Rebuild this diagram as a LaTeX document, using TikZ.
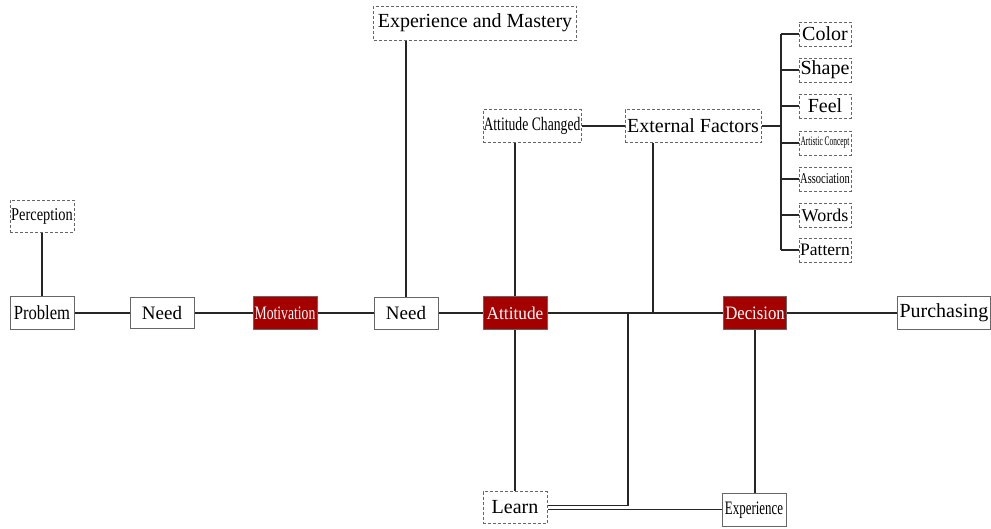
\documentclass[tikz,border=0pt]{standalone}
\usepackage{fontspec}
\setmainfont{Liberation Serif}
\usepackage{graphicx}
\usepackage{tikz}
\definecolor{decred}{RGB}{165,0,0}
\newcommand{\nw}[2]{\scalebox{#1}[1]{#2}}

\begin{document}
\begin{tikzpicture}[x=1pt,y=-1pt,
  mainbox/.style={draw=gray!80!black, line width=1pt, inner sep=0pt, minimum width=64pt, minimum height=33pt, font={\fontsize{19}{21}\selectfont}},
  dashbox/.style={mainbox, dash pattern=on 3pt off 2pt},
  fillbox/.style={mainbox, fill=decred, text=white},
  itembox/.style={dashbox, minimum width=52pt, minimum height=24pt},
  link/.style={line width=1.2pt, black!85}]
\useasboundingbox (0,0) rectangle (991,528);

\node[dashbox, minimum height=32pt, font={\fontsize{18}{20}\selectfont}] (perc) at (42,216) {\nw{0.8}{Perception}};
\node[mainbox, font={\fontsize{20}{22}\selectfont}] (prob) at (42,313) {\nw{0.83}{Problem}};
\node[mainbox, minimum height=31pt] (needa) at (162,313) {Need};
\node[fillbox, font={\fontsize{19}{21}\selectfont}] (motiv) at (285,313) {\nw{0.72}{Motivation}};
\node[mainbox, minimum height=32pt] (needb) at (406,313) {Need};
\node[dashbox, minimum width=203pt, minimum height=34pt, font={\fontsize{20}{22}\selectfont}] (mast) at (475,23) {Experience and Mastery};
\node[fillbox, font={\fontsize{18}{20}\selectfont}] (att) at (515,313) {\nw{0.96}{Attitude}};
\node[dashbox, minimum width=98pt, font={\fontsize{19}{21}\selectfont}] (attch) at (532,126) {\nw{0.72}{Attitude Changed}};
\node[dashbox, minimum width=136pt, font={\fontsize{20}{22}\selectfont}] (ext) at (693,126) {External Factors};
\node[fillbox, minimum width=63pt, font={\fontsize{19}{21}\selectfont}] (dec) at (755,313) {\nw{0.88}{Decision}};
\node[mainbox, minimum width=93pt, font={\fontsize{20}{22}\selectfont}] (purch) at (944,313) {Purchasing};
\node[dashbox, minimum height=32pt, font={\fontsize{20}{22}\selectfont}] (learn) at (515,507.5) {Learn};
\node[mainbox, font={\fontsize{19}{21}\selectfont}] (exper) at (754,510) {\nw{0.68}{Experience}};

\node[itembox, font={\fontsize{20}{22}\selectfont}] (color) at (825,34) {Color};
\node[itembox, font={\fontsize{20}{22}\selectfont}] (shape) at (825,70) {Shape};
\node[itembox, font={\fontsize{20}{22}\selectfont}] (feel) at (825,106) {Feel};
\node[itembox, font={\fontsize{13}{15}\selectfont}] (artc) at (825,143) {\nw{0.57}{Artistic Concept}};
\node[itembox, font={\fontsize{15}{17}\selectfont}] (assoc) at (825,179) {\nw{0.7}{Association}};
\node[itembox, font={\fontsize{18}{20}\selectfont}] (words) at (825,215) {Words};
\node[itembox, font={\fontsize{17.5}{20}\selectfont}] (patt) at (825,250) {Pattern};

\coordinate (jext) at (653,313);
\coordinate (jlearn) at (628,313);
\coordinate (brk) at (781,126);

\draw[link] (perc) -- (prob);
\draw[link] (prob) -- (needa);
\draw[link] (needa) -- (motiv);
\draw[link] (motiv) -- (needb);
\draw[link] (needb) -- (att);
\draw[link] (att) -- (dec);
\draw[link] (dec) -- (purch);
\draw[link] (needb) -- (needb |- mast.south);
\draw[link] (att.north) -- (att.north |- attch.south);
\draw[link] (attch) -- (ext);
\draw[link] (jext |- ext.south) -- (jext);
\draw[link] (att) -- (learn);
\draw[link] (jlearn) |- ([yshift=2pt]learn.east);
\draw[link] ([yshift=-2pt]learn.east) -- ([yshift=-2pt]learn.east -| exper.west);
\draw[link] (dec.south) -- (dec.south |- exper.north);

\draw[link] (ext) -- (brk);
\draw[link] (brk |- color.west) -- (brk |- patt.west);
\foreach \n in {color,shape,feel,artc,assoc,words,patt}
  \draw[link] (\n.west) -- (\n.west -| brk);
\end{tikzpicture}
\end{document}
